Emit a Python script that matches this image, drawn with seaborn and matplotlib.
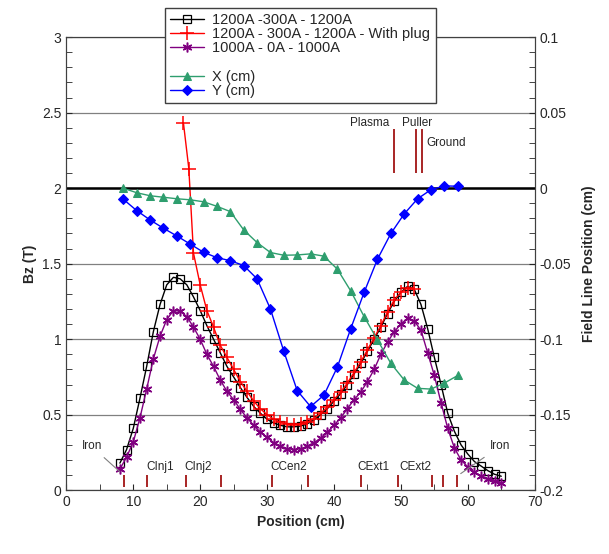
import numpy as np
import pandas as pd
import matplotlib
matplotlib.use("Agg")
import matplotlib.pyplot as plt
import seaborn as sns
from matplotlib.lines import Line2D
from matplotlib.ticker import MultipleLocator, FuncFormatter

# Bz along the axis for the three coil settings (T)
positions = np.arange(8, 66)
bz_1200_300 = [0.18, 0.27, 0.41, 0.61, 0.82, 1.05, 1.23, 1.36, 1.41, 1.40,
               1.36, 1.28, 1.19, 1.09, 1.00, 0.91, 0.82, 0.75, 0.68, 0.615,
               0.555, 0.51, 0.47, 0.445, 0.43, 0.42, 0.42, 0.425, 0.44, 0.465,
               0.50, 0.54, 0.59, 0.64, 0.70, 0.77, 0.84, 0.92, 1.00, 1.08,
               1.17, 1.25, 1.31, 1.35, 1.33, 1.23, 1.07, 0.88, 0.70, 0.51,
               0.39, 0.30, 0.24, 0.19, 0.16, 0.13, 0.106, 0.093]

plug_positions = [17.5, 18.3, 19, 20, 21, 22, 23, 24, 25, 26, 27, 28, 29, 30,
                  31, 32, 33, 34, 35, 36, 37, 38, 39, 40, 41, 42, 43, 44, 45,
                  46, 47, 48, 49, 50, 51, 52]
bz_plug = [2.43, 2.13, 1.57, 1.36, 1.19, 1.08, 0.96, 0.88, 0.80, 0.72, 0.655,
           0.59, 0.54, 0.50, 0.47, 0.45, 0.44, 0.435, 0.44, 0.45, 0.475, 0.51,
           0.55, 0.60, 0.65, 0.71, 0.78, 0.85, 0.93, 1.01, 1.09, 1.18, 1.26,
           1.31, 1.34, 1.33]

bz_1000_0 = [0.14, 0.22, 0.32, 0.48, 0.67, 0.87, 1.02, 1.13, 1.19, 1.185,
             1.15, 1.08, 1.00, 0.90, 0.82, 0.73, 0.655, 0.60, 0.535, 0.48,
             0.43, 0.385, 0.35, 0.315, 0.29, 0.275, 0.27, 0.275, 0.29, 0.315,
             0.345, 0.385, 0.43, 0.48, 0.54, 0.60, 0.65, 0.72, 0.80, 0.90,
             0.98, 1.05, 1.10, 1.14, 1.12, 1.06, 0.91, 0.76, 0.58, 0.41,
             0.28, 0.20, 0.155, 0.12, 0.095, 0.075, 0.06, 0.05]

# field line track (cm)
track_positions = np.arange(8.5, 59, 2)
x_cm = [0.0, -0.003, -0.005, -0.006, -0.007, -0.0077, -0.009, -0.012, -0.0155,
        -0.0276, -0.036, -0.0426, -0.0444, -0.0442, -0.0435, -0.045, -0.0536,
        -0.068, -0.085, -0.1005, -0.116, -0.127, -0.1325, -0.133, -0.129, -0.124]
y_cm = [-0.0073, -0.0148, -0.021, -0.0265, -0.0316, -0.037, -0.0424, -0.046,
        -0.048, -0.0512, -0.060, -0.080, -0.108, -0.134, -0.1446, -0.137,
        -0.1185, -0.093, -0.069, -0.047, -0.030, -0.017, -0.007, -0.001,
        0.0015, 0.0013]

# element markers
coil_marks = [8.6, 12.1, 17.9, 23.1, 30.8, 36.1, 44.0, 49.6, 54.7, 56.3, 58.4]
coil_names = ["CInj1", "CInj2", "CCen2", "CExt1", "CExt2"]
coil_name_x = [14.0, 19.7, 33.3, 45.9, 52.1]
electrode_marks = [48.9, 52.3, 53.2]

bz = pd.DataFrame({"pos": positions, "a": bz_1200_300, "c": bz_1000_0})
plug = pd.DataFrame({"pos": plug_positions, "b": bz_plug})
track = pd.DataFrame({"pos": track_positions, "x": x_cm, "y": y_cm})

sns.set_style("ticks")
plt.rcParams["font.family"] = ["Liberation Sans", "DejaVu Sans"]
plt.rcParams["font.size"] = 10

fig = plt.figure(figsize=(6.09, 5.54), dpi=100)
ax = fig.add_axes([0.109, 0.115, 0.769, 0.818])
ax2 = ax.twinx()

sns.lineplot(data=bz, x="pos", y="a", ax=ax, color="black", lw=1,
             marker="s", markersize=5.5, markerfacecolor="none",
             markeredgecolor="black", markeredgewidth=0.9,
             label="1200A -300A - 1200A")
sns.lineplot(data=plug, x="pos", y="b", ax=ax, color="red", lw=1,
             marker="+", markersize=10, markeredgecolor="red",
             markeredgewidth=1.1, label="1200A - 300A - 1200A - With plug")
sns.lineplot(data=bz, x="pos", y="c", ax=ax, color="#800080", lw=1,
             marker=(6, 2, 0), markersize=7, markeredgecolor="#800080",
             markeredgewidth=1.1, label="1000A - 0A - 1000A")
sns.lineplot(data=track, x="pos", y="x", ax=ax2, color="#2e9e6e", lw=1,
             marker="^", markersize=6, markeredgecolor="#2e9e6e",
             markerfacecolor="#2e9e6e", label="X (cm)")
sns.lineplot(data=track, x="pos", y="y", ax=ax2, color="blue", lw=1,
             marker="D", markersize=5, markeredgecolor="blue",
             markerfacecolor="blue", label="Y (cm)")

h1, l1 = ax.get_legend_handles_labels()
h2, l2 = ax2.get_legend_handles_labels()
for a in (ax, ax2):
    if a.get_legend() is not None:
        a.get_legend().remove()

# axes, grid
ax.set_xlim(0, 70)
ax.set_ylim(0, 3)
ax2.set_ylim(-0.2, 0.1)
ax.set_yticks(np.arange(0, 3.01, 0.5))
ax.yaxis.set_minor_locator(MultipleLocator(0.1))
ax.xaxis.set_major_locator(MultipleLocator(10))
ax.xaxis.set_minor_locator(MultipleLocator(5))
ax2.set_yticks(np.arange(-0.2, 0.101, 0.05))
ax2.yaxis.set_minor_locator(MultipleLocator(0.01))
fmt = FuncFormatter(lambda v, _: f"{round(v, 3) + 0.0:g}")
ax.yaxis.set_major_formatter(fmt)
ax2.yaxis.set_major_formatter(fmt)
ax.grid(axis="y", color="#808080", lw=0.9)
ax.set_axisbelow(True)
ax2.axhline(0, color="black", lw=1.8, zorder=1)

ax.tick_params(axis="both", which="both", direction="in", labelsize=10)
ax.tick_params(axis="both", which="major", length=4)
ax.tick_params(axis="both", which="minor", length=4)
ax.tick_params(axis="x", which="both", top=False)
ax2.tick_params(axis="y", which="both", direction="in", length=4, labelsize=10)
for a in (ax, ax2):
    for s in a.spines.values():
        s.set_color("#404040")
        s.set_linewidth(0.8)

ax.set_xlabel("Position (cm)", fontweight="bold", fontsize=10)
ax.set_ylabel("Bz (T)", fontweight="bold", fontsize=10)
ax2.set_ylabel("Field Line Position (cm)", fontweight="bold", fontsize=10,
               labelpad=8)

# element annotations
dark_red = "#990000"
ax.vlines(coil_marks, 0.02, 0.1, colors=dark_red, lw=1.2)
ax.vlines(electrode_marks, 2.1, 2.39, colors=dark_red, lw=1.2)
for name, xp in zip(coil_names, coil_name_x):
    ax.text(xp, 0.155, name, ha="center", va="center", fontsize=8.5)
ax.text(45.3, 2.43, "Plasma", ha="center", va="center", fontsize=8.5)
ax.text(52.4, 2.43, "Puller", ha="center", va="center", fontsize=8.5)
ax.text(56.8, 2.30, "Ground", ha="center", va="center", fontsize=8.5)
ax.annotate("Iron", xy=(8.3, 0.11), xytext=(3.8, 0.29), fontsize=8.5,
            ha="center", va="center",
            arrowprops=dict(arrowstyle="-", color="#808080", lw=0.8))
ax.annotate("Iron", xy=(58.6, 0.10), xytext=(64.8, 0.29), fontsize=8.5,
            ha="center", va="center",
            arrowprops=dict(arrowstyle="-", color="#808080", lw=0.8))

blank = Line2D([], [], color="none")
handles = h1 + [blank] + h2
labels = l1 + [" "] + l2
fig.legend(handles, labels, loc="upper left", bbox_to_anchor=(0.271, 0.986),
           frameon=True, fancybox=False, edgecolor="#404040", framealpha=1,
           fontsize=10.5, labelspacing=0.02, handlelength=2.3, borderpad=0.35,
           handletextpad=0.6, borderaxespad=0)

fig.savefig("out.png", dpi=100)
